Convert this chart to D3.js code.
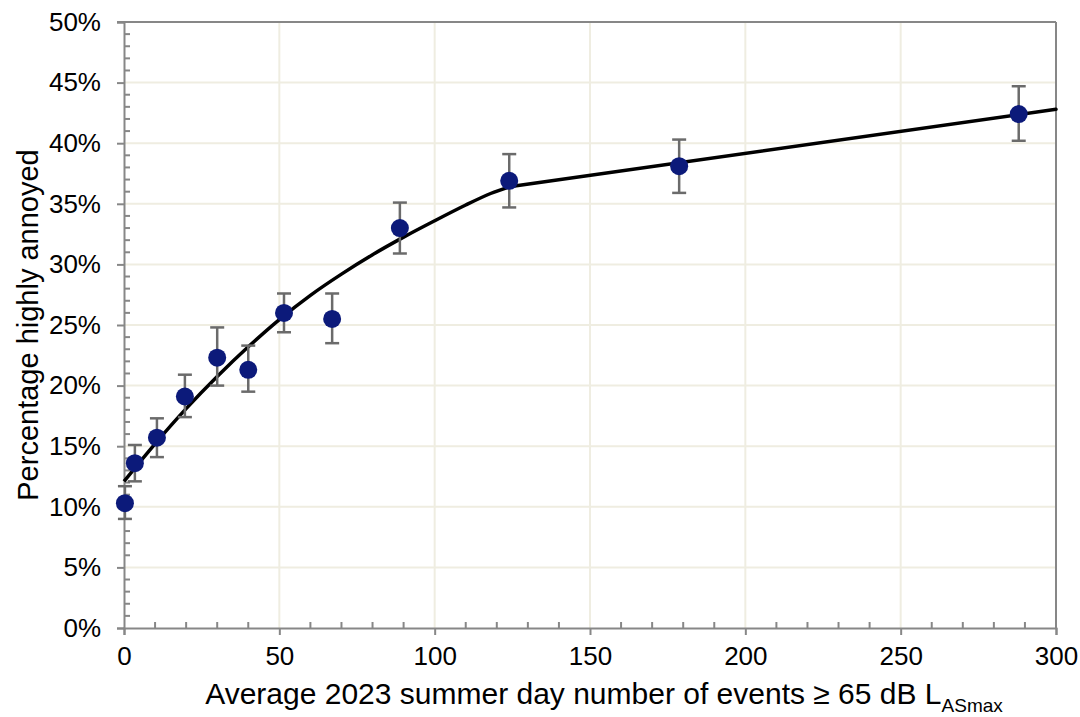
<!DOCTYPE html>
<html>
<head>
<meta charset="utf-8">
<script src="https://cdn.jsdelivr.net/npm/d3@7"></script>
<style>
  body { margin: 0; background: #fff; }
  text { font-family: "Liberation Sans", Arial, sans-serif; fill: #000; }
</style>
</head>
<body>
<div id="chart"></div>
<script>
// survey points: events per day vs % highly annoyed, with error bar ends
var events = [0.3, 3.5, 10.6, 19.6, 30, 40, 51.5, 67, 88.8, 124, 178.7, 288];
var annoyed = [10.3, 13.6, 15.7, 19.1, 22.3, 21.3, 26.0, 25.5, 33.0, 36.9, 38.1, 42.4];
var errHigh = [11.7, 15.1, 17.3, 20.9, 24.8, 23.3, 27.6, 27.6, 35.1, 39.1, 40.3, 44.7];
var errLow = [9.0, 12.1, 14.1, 17.4, 20.0, 19.5, 24.4, 23.5, 30.9, 34.7, 35.9, 40.2];

// fitted curve (curved part up to 124, then straight)
var fitX = [0, 10, 20, 30, 40, 50, 60, 70, 80, 90, 100, 110, 118, 124];
var fitY = [12.1, 15.2, 18.1, 20.75, 23.2, 25.45, 27.45, 29.2, 30.8, 32.25, 33.6, 34.9, 35.85, 36.4];
var fitTailX = [124, 300];
var fitTailY = [36.4, 42.8];

var xTicks = [0, 50, 100, 150, 200, 250, 300];
var yTicks = [0, 5, 10, 15, 20, 25, 30, 35, 40, 45, 50];

var W = 1080, H = 717;
var m = { left: 124, right: 24, top: 22, bottom: 89 };

var svg = d3.select("#chart").append("svg").attr("width", W).attr("height", H);

var x = d3.scaleLinear().domain([0, 300]).range([m.left, W - m.right]);
var y = d3.scaleLinear().domain([0, 50]).range([H - m.bottom, m.top]);

var gridColor = "#efede1", axisColor = "#878787";

// grid
svg.append("g").selectAll("line").data(yTicks.slice(1)).enter().append("line")
  .attr("x1", x(0)).attr("x2", x(300))
  .attr("y1", function (d) { return y(d); }).attr("y2", function (d) { return y(d); })
  .style("stroke", gridColor).style("stroke-width", 2);
svg.append("g").selectAll("line").data(xTicks.slice(1)).enter().append("line")
  .attr("y1", y(0)).attr("y2", y(50))
  .attr("x1", function (d) { return x(d); }).attr("x2", function (d) { return x(d); })
  .style("stroke", gridColor).style("stroke-width", 2);

// frame top / right
svg.append("line").attr("x1", x(0) - 7).attr("x2", x(300)).attr("y1", y(50)).attr("y2", y(50))
  .style("stroke", axisColor).style("stroke-width", 2);
svg.append("line").attr("x1", x(300)).attr("x2", x(300)).attr("y1", y(50)).attr("y2", y(0))
  .style("stroke", axisColor).style("stroke-width", 2);

// minor ticks
svg.append("g").selectAll("line").data(d3.range(0, 50, 1).filter(function (d) { return d % 5 != 0; }))
  .enter().append("line")
  .attr("x1", x(0)).attr("x2", x(0) + 6)
  .attr("y1", function (d) { return y(d); }).attr("y2", function (d) { return y(d); })
  .style("stroke", axisColor).style("stroke-width", 2);
svg.append("g").selectAll("line").data(d3.range(10, 300, 10).filter(function (d) { return d % 50 != 0; }))
  .enter().append("line")
  .attr("y1", y(0)).attr("y2", y(0) - 6)
  .attr("x1", function (d) { return x(d); }).attr("x2", function (d) { return x(d); })
  .style("stroke", axisColor).style("stroke-width", 2);

// axes
var yAxis = svg.append("g").attr("transform", "translate(" + x(0) + ",0)")
  .call(d3.axisLeft(y).tickValues(yTicks).tickSize(7).tickPadding(16).tickFormat(function (d) { return d + "%"; }));
var xAxis = svg.append("g").attr("transform", "translate(0," + y(0) + ")")
  .call(d3.axisBottom(x).tickValues(xTicks).tickSize(7).tickPadding(12));
[yAxis, xAxis].forEach(function (a) {
  a.select(".domain").style("stroke", axisColor).style("stroke-width", 2);
  a.selectAll(".tick line").style("stroke", axisColor).style("stroke-width", 2);
  a.selectAll("text").style("font-size", "26px").style("fill", "#000")
    .style("font-family", "'Liberation Sans', Arial, sans-serif");
});

// fit line
var line = d3.line().x(function (d) { return x(d[0]); }).y(function (d) { return y(d[1]); });
var fit = fitX.map(function (d, i) { return [d, fitY[i]]; });
var tail = fitTailX.map(function (d, i) { return [d, fitTailY[i]]; });
svg.append("path").datum(fit).attr("d", line.curve(d3.curveCatmullRom))
  .style("fill", "none").style("stroke", "#000").style("stroke-width", 3.5);
svg.append("path").datum(tail).attr("d", line.curve(d3.curveLinear))
  .style("fill", "none").style("stroke", "#000").style("stroke-width", 3.5).style("stroke-linecap", "round");

// error bars
var eb = svg.append("g").style("stroke", "#6b6b6b").style("stroke-width", 2.5);
events.forEach(function (d, i) {
  eb.append("line").attr("x1", x(d)).attr("x2", x(d)).attr("y1", y(errLow[i])).attr("y2", y(errHigh[i]));
  eb.append("line").attr("x1", x(d) - 7).attr("x2", x(d) + 7).attr("y1", y(errLow[i])).attr("y2", y(errLow[i]));
  eb.append("line").attr("x1", x(d) - 7).attr("x2", x(d) + 7).attr("y1", y(errHigh[i])).attr("y2", y(errHigh[i]));
});

// points
svg.append("g").selectAll("circle").data(events).enter().append("circle")
  .attr("cx", function (d) { return x(d); })
  .attr("cy", function (d, i) { return y(annoyed[i]); })
  .attr("r", 9).style("fill", "#0c1a7a");

// titles
svg.append("text").attr("x", 604).attr("y", 704).style("font-size", "30px").attr("text-anchor", "middle")
  .text("Average 2023 summer day number of events \u2265 65 dB L")
  .append("tspan").attr("dy", 8).style("font-size", "19px").text("ASmax");
svg.append("text").attr("transform", "translate(38," + ((y(0) + y(50)) / 2) + ") rotate(-90)")
  .attr("text-anchor", "middle").style("font-size", "29px").text("Percentage highly annoyed");
</script>
</body>
</html>
